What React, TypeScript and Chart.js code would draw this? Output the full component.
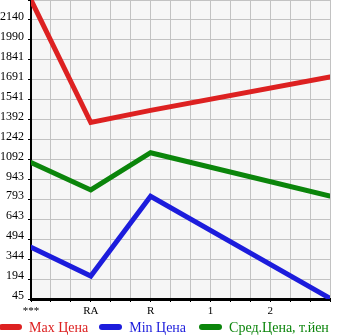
import React, { useEffect, useRef } from "react";
import { Chart, registerables } from "chart.js";

Chart.register(...registerables);

const categories = ["***", "RA", "R", "1", "2", ""];
const maxPrice = [2290, 1370, 1461, null, null, 1711];
const minPrice = [434, 217, 816, null, null, 50];
const avgPrice = [1070, 864, 1143, null, null, 818];
const yTickLabels = ["45", "194", "344", "494", "643", "793", "943", "1092", "1242", "1392", "1541", "1691", "1841", "1990", "2140", ""];

const seriesNames = ["Max Цена", "Min Цена", "Сред.Цена, т.йен"];
const seriesColors = ["#dd2121", "#1c1cdc", "#0b850b"];

const SUB = 3; // grid cells per category
const yMin = 45;
const yStep = (2140 - 45) / 14;

const FONT = "'Liberation Serif', 'Times New Roman', serif";

export default function App() {
  const ref = useRef<HTMLCanvasElement | null>(null);

  useEffect(() => {
    document.body.style.margin = "0";
    const canvas = ref.current;
    if (!canvas) return;

    const toPoints = (arr: (number | null)[]) =>
      arr.map((v, i) => ({ x: i * SUB, y: v }));

    const bgPlugin = {
      id: "plotBg",
      beforeDraw(chart: any) {
        const { ctx, chartArea } = chart;
        ctx.save();
        ctx.fillStyle = "#f6f6f6";
        ctx.fillRect(chartArea.left, chartArea.top, chartArea.right - chartArea.left, chartArea.bottom - chartArea.top);
        ctx.restore();
      },
    };

    const chart = new Chart(canvas, {
      type: "line",
      data: {
        datasets: [maxPrice, minPrice, avgPrice].map((d, i) => ({
          label: seriesNames[i],
          data: toPoints(d) as any,
          borderColor: seriesColors[i],
          backgroundColor: seriesColors[i],
          borderWidth: 5,
          pointRadius: 0,
          tension: 0,
          spanGaps: true,
          borderCapStyle: "round",
          borderJoinStyle: "miter",
        })),
      },
      options: {
        animation: false,
        responsive: false,
        maintainAspectRatio: false,
        layout: { padding: { left: 0, right: 15, top: 0, bottom: 17 } },
        plugins: {
          legend: { display: false },
          tooltip: { enabled: false },
        },
        scales: {
          x: {
            type: "linear",
            min: 0,
            max: (categories.length - 1) * SUB,
            afterFit: (s: any) => {
              s.height = 19;
              s.paddingLeft = 0;
              s.paddingRight = 0;
            },
            afterBuildTicks: (s: any) => {
              const t = [];
              for (let i = 0; i <= (categories.length - 1) * SUB; i++) t.push({ value: i });
              s.ticks = t;
            },
            ticks: {
              autoSkip: false,
              maxRotation: 0,
              padding: 3,
              color: "#000",
              font: { family: FONT, size: 11 },
              callback: (v: any) => {
                const n = Number(v);
                return n % SUB === 0 ? categories[n / SUB] : "";
              },
            },
            grid: { color: "#c2c2c2", lineWidth: 1, tickLength: 3, tickColor: "#000" },
            border: { color: "#000", width: 3 },
          },
          y: {
            type: "linear",
            min: yMin,
            max: yMin + yStep * (yTickLabels.length - 1),
            afterFit: (s: any) => {
              s.width = 31;
              s.paddingTop = 0;
              s.paddingBottom = 0;
            },
            afterBuildTicks: (s: any) => {
              s.ticks = yTickLabels.map((_, i) => ({ value: yMin + i * yStep }));
            },
            ticks: {
              autoSkip: false,
              padding: 4,
              labelOffset: -3,
              color: "#000",
              font: { family: FONT, size: 12 },
              callback: (_v: any, i: number) => yTickLabels[i],
            },
            grid: { color: "#c2c2c2", lineWidth: 1, tickLength: 3, tickColor: "#000" },
            border: { color: "#000", width: 2 },
          },
        },
      },
      plugins: [bgPlugin],
    });

    return () => chart.destroy();
  }, []);

  const legendItems = seriesNames.map((name, i) => (
    <div key={name} style={{ display: "flex", alignItems: "center", marginRight: i === 0 ? 11 : 13 }}>
      <span
        style={{
          display: "inline-block",
          width: 23,
          height: 6,
          borderRadius: 3,
          background: seriesColors[i],
          marginRight: 7,
        }}
      />
      <span style={{ color: seriesColors[i], fontFamily: FONT, fontSize: 14, lineHeight: "17px", whiteSpace: "nowrap" }}>
        {name}
      </span>
    </div>
  ));

  return (
    <div style={{ position: "relative", width: 345, height: 335 }}>
      <canvas ref={ref} width={345} height={335} style={{ display: "block", width: 345, height: 335 }} />
      <div style={{ position: "absolute", left: -1, top: 319, height: 16, display: "flex", alignItems: "center" }}>
        {legendItems}
      </div>
    </div>
  );
}
